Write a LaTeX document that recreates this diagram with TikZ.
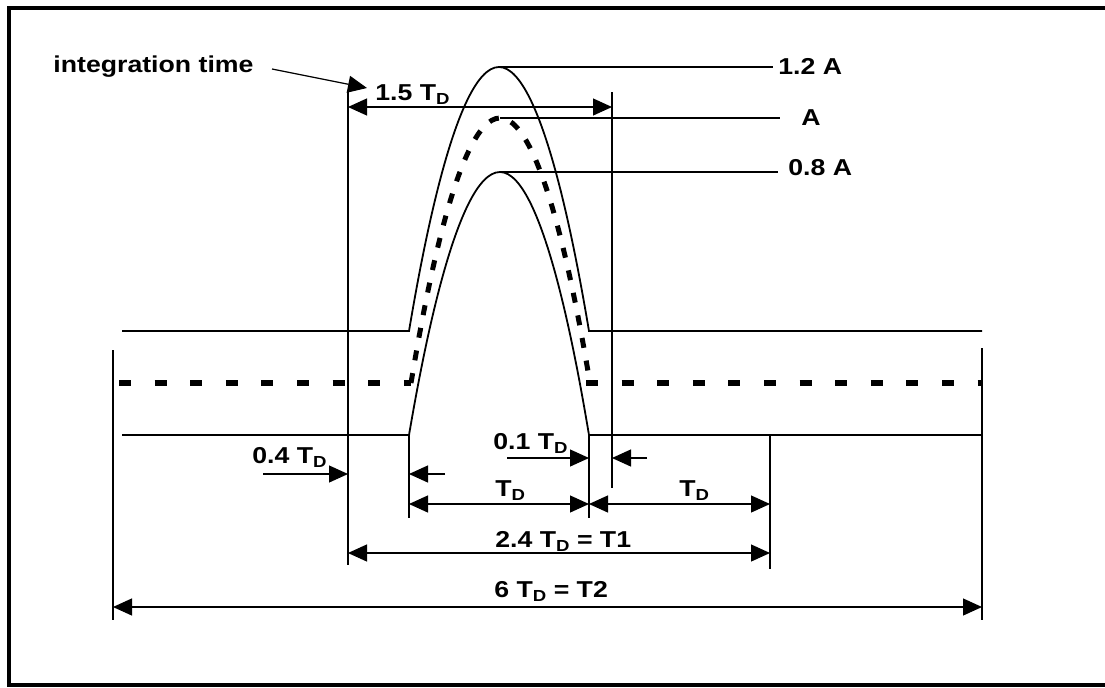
\documentclass[tikz,border=0pt]{standalone}
\usepackage{fontspec}
\setmainfont{Liberation Sans}[FakeStretch=1.16]
\usetikzlibrary{arrows.meta, positioning}
\newcommand{\TD}{T\raisebox{-2.2pt}{\fontsize{8}{9}\selectfont D}}

\begin{document}
\begin{tikzpicture}[x=0.5pt, y=-0.5pt, font=\fontsize{11.5}{13}\selectfont\bfseries,
    >={Triangle[length=9.5pt,width=8.5pt]},
    curve/.style={line width=0.9pt},
    dimline/.style={line width=0.6pt},
    lbl/.style={anchor=base west, inner sep=0pt}]
        \useasboundingbox (0,0) rectangle (1105,687);
        % Frame
        \draw[line width=2pt] (1106,7.5) -- (8.5,7.5) -- (8.5,684.5) -- (1106,684.5);

        % Pulse end points
        \coordinate (hiL) at (409,331);  \coordinate (hiR) at (589,331);  \coordinate (hiTop) at (499,67);
        \coordinate (midL) at (411,383); \coordinate (midR) at (590,383); \coordinate (midTop) at (500,118);
        \coordinate (loL) at (409,435);  \coordinate (loR) at (589,435);  \coordinate (loTop) at (500,172);

        % Levels and pulses
        \draw[curve] (122,331) -- (hiL) parabola bend (hiTop) (hiR) -- (982,331);
        \draw[curve] (122,435) -- (loL) parabola bend (loTop) (loR) -- (982,435);
        \draw[line width=3pt, dash pattern=on 6pt off 11.8pt] (119,383) -- (midL);
        \draw[line width=3pt, dash pattern=on 6pt off 11.8pt] (586,383) -- (983,383);
        \draw[line width=2.5pt, dash pattern=on 5pt off 6.5pt] (midL) parabola bend (midTop) (midR);

        % Amplitude labels
        \node[lbl] (l12) at (778,74) {1.2 A};
        \node[lbl] (l10) at (801,125) {A};
        \node[lbl] (l08) at (788,175) {0.8 A};
        \coordinate (e12) at (773,67);
        \coordinate (e10) at (780,118);
        \coordinate (e08) at (778,172);
        \draw[dimline] (hiTop) -- (e12);
        \draw[dimline] (midTop) -- (e10);
        \draw[dimline] (loTop) -- (e08);

        % Extension lines
        \coordinate (t1a) at (348,90);  \coordinate (t1b) at (348,565);
        \coordinate (t2a) at (612,92);  \coordinate (t2b) at (612,488);
        \coordinate (t3b) at (409,518);
        \coordinate (t4b) at (589,518);
        \coordinate (t5a) at (770,435); \coordinate (t5b) at (770,569);
        \coordinate (t6a) at (113,350); \coordinate (t6b) at (113,620);
        \coordinate (t7a) at (982,348); \coordinate (t7b) at (982,620);
        \draw[dimline] (t1a) -- (t1b);
        \draw[dimline] (t2a) -- (t2b);
        \draw[dimline] (loL) -- (t3b);
        \draw[dimline] (loR) -- (t4b);
        \draw[dimline] (t5a) -- (t5b);
        \draw[dimline] (t6a) -- (t6b);
        \draw[dimline] (t7a) -- (t7b);

        % Integration time
        \node[lbl] (integ) at (53,72) {integration time};
        \coordinate (intTail) at (272,69);
        \coordinate (intTip) at (367,88);
        \draw[dimline, ->] (intTail) -- (intTip);

        % 1.5 T_D
        \node[lbl] (d15) at (375,100) {1.5 \TD};
        \coordinate (a15) at (348,107); \coordinate (b15) at (612,107);
        \draw[dimline, <->] (a15) -- (b15);

        % 0.4 T_D
        \node[lbl] (d04) at (252,463) {0.4 \TD};
        \coordinate (a04) at (263,474); \coordinate (b04) at (348,474);
        \coordinate (c04) at (445,474); \coordinate (e04) at (409,474);
        \draw[dimline, ->] (a04) -- (b04);
        \draw[dimline, ->] (c04) -- (e04);

        % 0.1 T_D
        \node[lbl] (d01) at (493,449) {0.1 \TD};
        \coordinate (a01) at (507,458); \coordinate (b01) at (589,458);
        \coordinate (c01) at (647,458); \coordinate (e01) at (612,458);
        \draw[dimline, ->] (a01) -- (b01);
        \draw[dimline, ->] (c01) -- (e01);

        % T_D twice
        \node[lbl] (dA) at (495,496) {\TD};
        \node[lbl] (dB) at (679,496) {\TD};
        \coordinate (aTD) at (409,504); \coordinate (bTD) at (589,504); \coordinate (cTD) at (770,504);
        \draw[dimline, <->] (aTD) -- (bTD);
        \draw[dimline, <->] (bTD) -- (cTD);

        % T1 and T2
        \node[lbl] (dT1) at (495,547) {2.4 \TD{} = T1};
        \coordinate (aT1) at (348,553); \coordinate (bT1) at (770,553);
        \draw[dimline, <->] (aT1) -- (bT1);
        \node[lbl] (dT2) at (494,597) {6 \TD{} = T2};
        \coordinate (aT2) at (113,607); \coordinate (bT2) at (982,607);
        \draw[dimline, <->] (aT2) -- (bT2);
      \end{tikzpicture}
\end{document}
